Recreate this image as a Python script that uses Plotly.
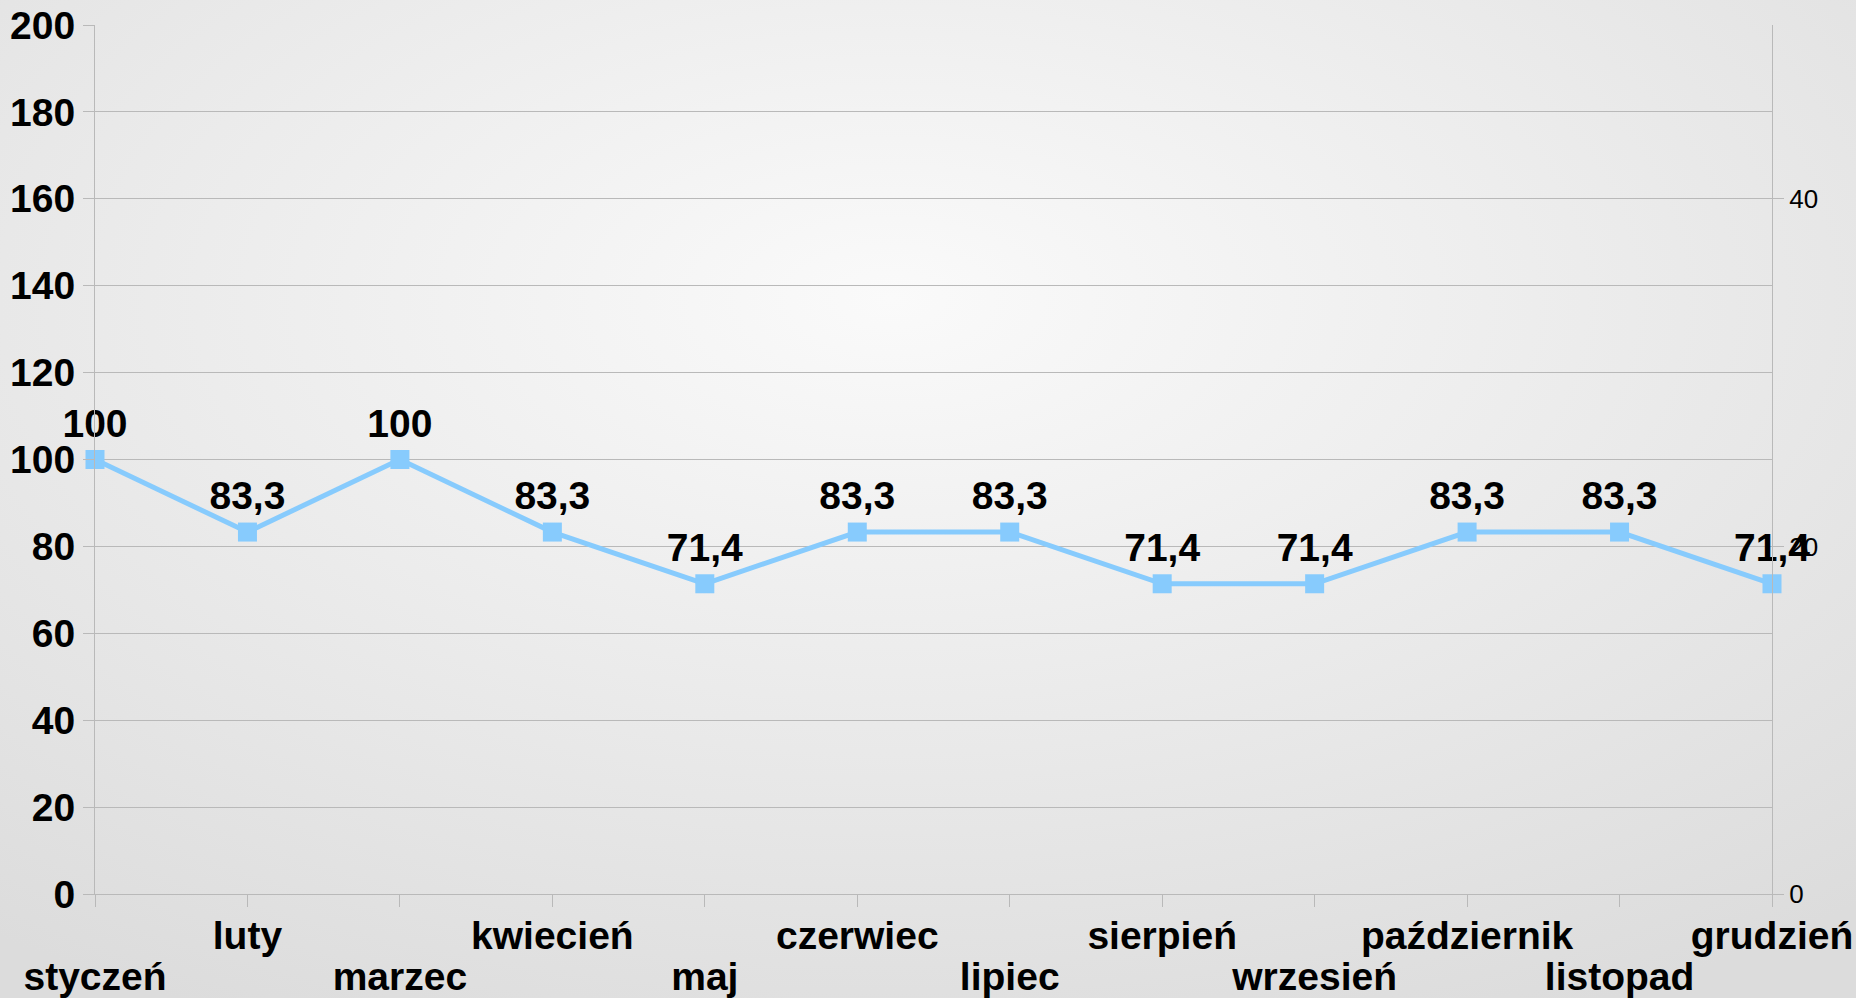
import base64
import plotly.graph_objects as go

months = ["styczeń", "luty", "marzec", "kwiecień", "maj", "czerwiec",
          "lipiec", "sierpień", "wrzesień", "październik", "listopad", "grudzień"]
values = [100, 83.3, 100, 83.3, 71.4, 83.3, 83.3, 71.4, 71.4, 83.3, 83.3, 71.4]
left_ticks = [0, 20, 40, 60, 80, 100, 120, 140, 160, 180, 200]
right_ticks = [0, 20, 40]

W, H = 1856, 998
ML, MR, MT, MB = 95, 84, 25, 104
PW, PH = W - ML - MR, H - MT - MB

pos = list(range(len(months)))
labels = [f"{v:g}".replace(".", ",") for v in values]

FONT = "Liberation Sans, Arial, sans-serif"
FS = 39
LINE_COLOR = "#87CBFD"
GRID = "#b9b9b9"

svg = (
    f'<svg xmlns="http://www.w3.org/2000/svg" width="{W}" height="{H}" preserveAspectRatio="none">'
    '<defs><radialGradient id="g" cx="0.48" cy="0.3" r="0.8" gradientUnits="objectBoundingBox">'
    '<stop offset="0" stop-color="#fafafa"/><stop offset="1" stop-color="#dcdcdc"/>'
    '</radialGradient></defs><rect width="100%" height="100%" fill="url(#g)"/></svg>'
)
bg_src = "data:image/svg+xml;base64," + base64.b64encode(svg.encode()).decode()

fig = go.Figure()
# empty trace so the secondary (right / second-row) axes get drawn
fig.add_trace(go.Scatter(x=[], y=[], xaxis="x2", yaxis="y2",
                         showlegend=False, hoverinfo="skip"))
fig.add_trace(go.Scatter(
    x=pos, y=values, mode="lines+markers+text",
    line=dict(color=LINE_COLOR, width=5),
    marker=dict(symbol="square", size=19, color=LINE_COLOR),
    text=labels, textposition="top center",
    textfont=dict(family=FONT, size=FS, color="black", weight="bold"),
    cliponaxis=False, showlegend=False, hoverinfo="skip",
))

fig.update_layout(
    width=W, height=H,
    margin=dict(l=ML, r=MR, t=MT, b=MB, autoexpand=False),
    paper_bgcolor="#ececec",
    plot_bgcolor="rgba(0,0,0,0)",
    images=[dict(source=bg_src, xref="paper", yref="paper",
                 x=-ML / PW, y=1 + MT / PH, sizex=W / PW, sizey=H / PH,
                 xanchor="left", yanchor="top", sizing="stretch", layer="below")],
    xaxis=dict(
        range=[0, len(months) - 1], tickmode="array", tickvals=pos,
        ticktext=[m if i % 2 else "" for i, m in enumerate(months)],
        ticks="outside", ticklen=12, tickcolor=GRID, tickwidth=1,
        showline=True, linecolor=GRID, linewidth=1,
        showgrid=False, zeroline=False, ticklabelstandoff=-5,
        tickfont=dict(family=FONT, size=FS, color="black", weight="bold"),
    ),
    xaxis2=dict(
        overlaying="x", anchor="y", side="bottom",
        range=[0, len(months) - 1], tickmode="array",
        tickvals=[p for p in pos if p % 2 == 0],
        ticktext=[m for i, m in enumerate(months) if i % 2 == 0],
        ticks="", showline=False, showgrid=False, zeroline=False,
        ticklabelstandoff=56,
        tickfont=dict(family=FONT, size=FS, color="black", weight="bold"),
    ),
    yaxis=dict(
        range=[0, 200], tickmode="array", tickvals=left_ticks,
        ticks="outside", ticklen=11, tickcolor=GRID, tickwidth=1,
        showline=True, linecolor=GRID, linewidth=1,
        showgrid=True, gridcolor=GRID, gridwidth=1, zeroline=False,
        tickfont=dict(family=FONT, size=FS, color="black", weight="bold"),
    ),
    yaxis2=dict(
        overlaying="y", side="right", anchor="x",
        range=[0, 50], tickmode="array", tickvals=right_ticks,
        ticks="outside", ticklen=11, tickcolor=GRID, tickwidth=1,
        showline=True, linecolor=GRID, linewidth=1,
        showgrid=False, zeroline=False,
        tickfont=dict(family=FONT, size=26, color="black"),
    ),
)

fig.write_html(
    "out.html",
    config={"displayModeBar": False},
    post_script="document.body.style.margin='0';document.body.style.padding='0';",
)
